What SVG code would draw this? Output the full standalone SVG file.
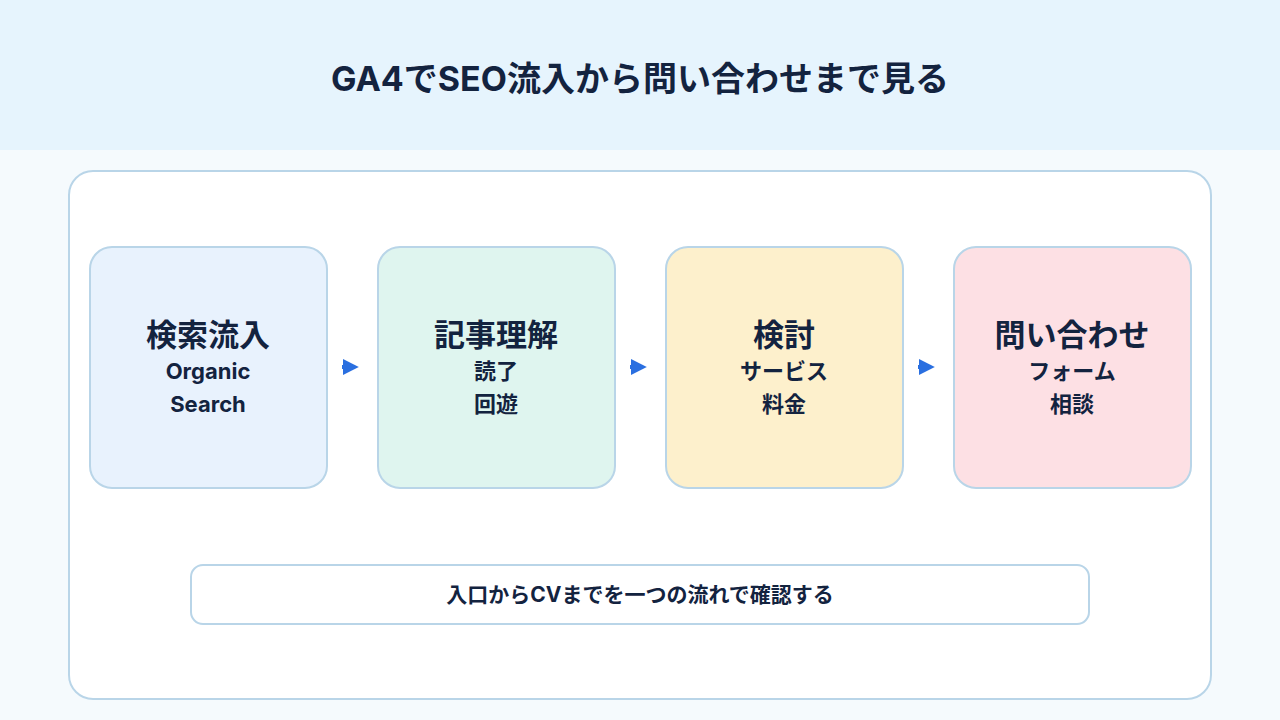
<svg xmlns="http://www.w3.org/2000/svg" width="1280" height="720" viewBox="0 0 1280 720">
<style>
.node{stroke:#b9d5e8;stroke-width:2}
.t{font-family:Inter,"Noto Sans CJK JP",sans-serif;font-weight:700;fill:#13233f;text-anchor:middle}
.h{font-size:31px}.s{font-size:22px}.c{stroke:#2a6fe0;stroke-width:4}
</style>
<defs><marker id="a" viewBox="0 0 10 10" refX="2" refY="5" markerWidth="4" markerHeight="4.4" orient="auto"><path d="M0,0L10,5L0,10z" fill="#2a6fe0"/></marker></defs>
<rect width="1280" height="720" fill="#f5fafd"/>
<rect width="1280" height="150" fill="#e6f4fd"/>
<text class="t" x="640" y="91" font-size="34">GA4でSEO流入から問い合わせまで見る</text>
<rect x="69" y="171" width="1142" height="528" rx="24" fill="#fff" stroke="#b9d5e8" stroke-width="2"/>
<g id="n1"><rect class="node" x="90" y="247" width="237" height="241" rx="22" fill="#e8f2fd"/><text class="t h" x="208" y="346">検索流入</text><text class="t s" x="208" y="379">Organic</text><text class="t s" x="208" y="412">Search</text></g>
<g id="n2"><rect class="node" x="378" y="247" width="237" height="241" rx="22" fill="#dff5ef"/><text class="t h" x="496" y="346">記事理解</text><text class="t s" x="496" y="379">読了</text><text class="t s" x="496" y="412">回遊</text></g>
<g id="n3"><rect class="node" x="666" y="247" width="237" height="241" rx="22" fill="#fdf0cc"/><text class="t h" x="784" y="346">検討</text><text class="t s" x="784" y="379">サービス</text><text class="t s" x="784" y="412">料金</text></g>
<g id="n4"><rect class="node" x="954" y="247" width="237" height="241" rx="22" fill="#fde0e4"/><text class="t h" x="1072" y="346">問い合わせ</text><text class="t s" x="1072" y="379">フォーム</text><text class="t s" x="1072" y="412">相談</text></g>
<g id="connectors"><line class="c" x1="342" y1="367" x2="346" y2="367" marker-end="url(#a)"/><line class="c" x1="630" y1="367" x2="634" y2="367" marker-end="url(#a)"/><line class="c" x1="918" y1="367" x2="922" y2="367" marker-end="url(#a)"/></g>
<g id="note"><rect x="191" y="565" width="898" height="59" rx="12" fill="#fff" stroke="#b9d5e8" stroke-width="2"/><text class="t" x="640" y="602" font-size="21">入口からCVまでを一つの流れで確認する</text></g>
</svg>
